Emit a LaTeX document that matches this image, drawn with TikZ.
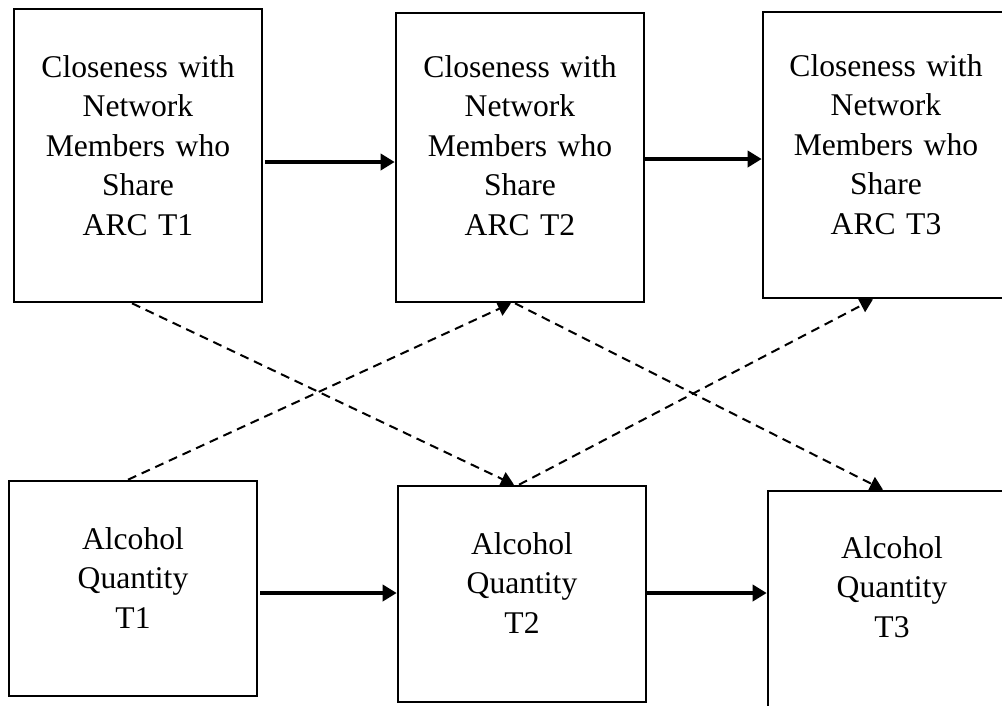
\documentclass[tikz,border=0pt]{standalone}
\usepackage{fontspec}
\setmainfont{Liberation Serif}
\usetikzlibrary{arrows.meta}
\begin{document}
\begin{tikzpicture}[x=1pt,y=-1pt,
  box/.style={draw, line width=2.6pt, inner sep=0pt, minimum width=248pt},
  boxtext/.style={text width=236pt, align=center, anchor=base, inner sep=0pt,
    font=\fontsize{31.6}{39.5}\selectfont},
  flow/.style={line width=4pt, -{Triangle[length=14pt,width=16pt]}},
  cross/.style={line width=2pt, dash pattern=on 9pt off 6pt,
    -{Triangle[length=13pt,width=15pt]}}]

\useasboundingbox (0,0) rectangle (1002,705);
\clip (0,0) rectangle (1002,705);

% closeness boxes
\node[box, minimum height=293pt] (c1) at (138,155.5) {};
\node[box, minimum height=289pt] (c2) at (520,157.5) {};
\node[box, minimum width=246pt, minimum height=286pt] (c3) at (886,155) {};
% alcohol boxes
\node[box, minimum height=215pt] (a1) at (133,588.5) {};
\node[box, minimum height=216pt] (a2) at (522,594) {};
\node[box, minimum height=216pt] (a3) at (892,599) {};

% box texts
\node[boxtext] (c1t) at (138,77) {Closeness with\\Network\\Members who\\Share\\ARC T1};
\node[boxtext] (c2t) at (520,77) {Closeness with\\Network\\Members who\\Share\\ARC T2};
\node[boxtext] (c3t) at (886,76) {Closeness with\\Network\\Members who\\Share\\ARC T3};
\node[boxtext] (a1t) at (133,549) {Alcohol\\Quantity\\T1};
\node[boxtext] (a2t) at (522,554) {Alcohol\\Quantity\\T2};
\node[boxtext] (a3t) at (892,558) {Alcohol\\Quantity\\T3};

% stability paths
\draw[flow] ([xshift=2pt]c1.east |- 0,162) -- (c2.west |- 0,162);
\draw[flow] (c2.east |- 0,159) -- (c3.west |- 0,159);
\draw[flow] ([xshift=2pt]a1.east |- 0,593) -- (a2.west |- 0,593);
\draw[flow] (a2.east |- 0,593) -- (a3.west |- 0,593);

% cross-lagged paths
\draw[cross] (c1.south -| 132,0) -- (a2.north -| 514,0);
\draw[cross] (a1.north -| 128,0) -- (c2.south -| 511,0);
\draw[cross] (c2.south -| 515,0) -- (a3.north -| 883,0);
\draw[cross] (a2.north -| 519,0) -- (c3.south -| 873,0);
\end{tikzpicture}
\end{document}
